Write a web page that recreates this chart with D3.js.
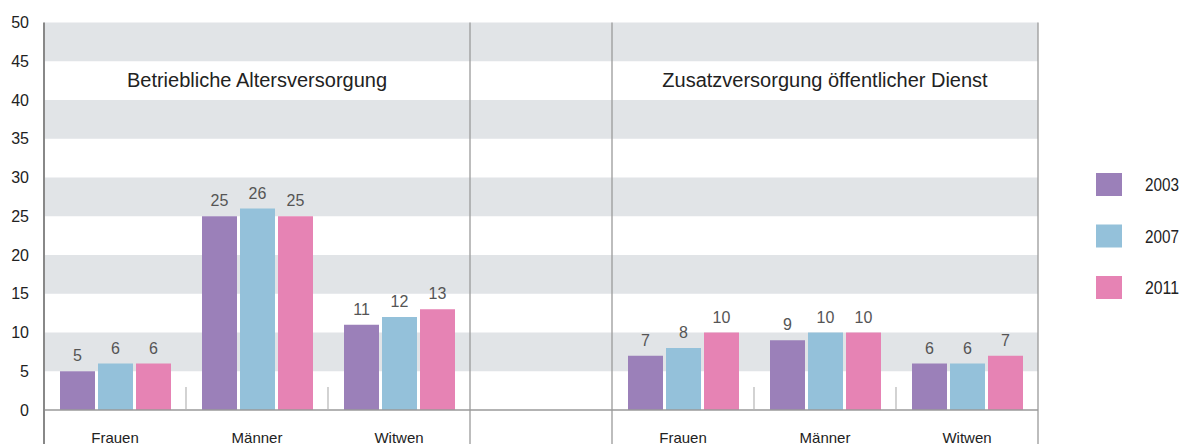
<!DOCTYPE html>
<html><head><meta charset="utf-8">
<script src="https://cdn.jsdelivr.net/npm/d3@7"></script>
<style>
body{margin:0;background:#fff;}
svg{display:block;font-family:"Liberation Sans",Arial,sans-serif;}
</style></head>
<body>
<svg id="chart" width="1183" height="444"></svg>
<script>
const years = ["2003","2007","2011"];
const categories = ["Frauen","Männer","Witwen"];
const panels = ["Betriebliche Altersversorgung","Zusatzversorgung öffentlicher Dienst"];
const valuesBetrieblich = [[5,6,6],[25,26,25],[11,12,13]];
const valuesOeffentlich = [[7,8,10],[9,10,10],[6,6,7]];
const yTicks = [0,5,10,15,20,25,30,35,40,45,50];
const colors = ["#9b80b9","#94c1da","#e683b4"];

const svg = d3.select("#chart");
const x0 = 44, x1 = 1038, yTop = 22.5, yBase = 410;

const slots = ["L0","L1","L2","gap","R0","R1","R2"];
const x = d3.scaleBand().domain(slots).range([x0, x1]);
const y = d3.scaleLinear().domain([0,50]).range([yBase, yTop]);
const xi = d3.scaleBand().domain(years).range([16,127]).paddingInner(3/38);

// bands
const bandPairs = [[5,10],[15,20],[25,30],[35,40],[45,50]];
svg.append("g").selectAll("rect").data(bandPairs).join("rect")
  .attr("x", x0).attr("width", x1 - x0)
  .attr("y", d => y(d[1])).attr("height", d => y(d[0]) - y(d[1]))
  .attr("fill", "#e1e4e7");

// y tick labels
svg.append("g").selectAll("text").data(yTicks).join("text")
  .attr("x", 29).attr("y", d => y(d)).attr("dy", "0.35em")
  .attr("text-anchor", "end").attr("font-size", 16).attr("fill", "#222")
  .text(d => d);

// data rows
const rows = [];
[valuesBetrieblich, valuesOeffentlich].forEach((vals, p) => {
  vals.forEach((arr, c) => {
    arr.forEach((v, k) => rows.push({slot: (p ? "R" : "L") + c, year: years[k], v, k}));
  });
});

svg.append("g").selectAll("rect").data(rows).join("rect")
  .attr("x", d => x(d.slot) + xi(d.year)).attr("width", xi.bandwidth())
  .attr("y", d => y(d.v)).attr("height", d => yBase - y(d.v))
  .attr("fill", d => colors[d.k]);

svg.append("g").selectAll("text").data(rows).join("text")
  .attr("x", d => x(d.slot) + xi(d.year) + xi.bandwidth()/2)
  .attr("y", d => y(d.v) - 10)
  .attr("text-anchor", "middle").attr("font-size", 16).attr("fill", "#555")
  .text(d => d.v);

// axis lines
const g = svg.append("g").attr("stroke", "#9a9a9a");
g.append("line").attr("x1", x0).attr("x2", x1).attr("y1", yBase).attr("y2", yBase).attr("stroke-width", 1.5);
g.append("line").attr("x1", x0).attr("x2", x0).attr("y1", yTop).attr("y2", 444).attr("stroke", "#888").attr("stroke-width", 2);
[x("gap"), x("R0"), x1].forEach(xx => {
  g.append("line").attr("x1", xx).attr("x2", xx).attr("y1", yTop).attr("y2", 444).attr("stroke-width", 1.3);
});
["L1","L2","R1","R2"].forEach(s => {
  g.append("line").attr("x1", x(s)).attr("x2", x(s)).attr("y1", yBase).attr("y2", yBase - 23)
    .attr("stroke", "#b5b5b5").attr("stroke-width", 1.2);
});

// category labels
const catRows = [];
["L","R"].forEach(p => categories.forEach((c, i) => catRows.push({slot: p + i, c})));
svg.append("g").selectAll("text").data(catRows).join("text")
  .attr("x", d => x(d.slot) + x.bandwidth()/2).attr("y", 443)
  .attr("text-anchor", "middle").attr("font-size", 15).attr("fill", "#222")
  .text(d => d.c);

// panel titles
svg.append("text").attr("x", (x("L0") + x("gap"))/2).attr("y", 87)
  .attr("text-anchor", "middle").attr("font-size", 20).attr("fill", "#222").text(panels[0]);
svg.append("text").attr("x", (x("R0") + x1)/2).attr("y", 87)
  .attr("text-anchor", "middle").attr("font-size", 20).attr("fill", "#222").text(panels[1]);

// legend
const lg = svg.append("g").selectAll("g").data(years).join("g")
  .attr("transform", (d, i) => `translate(1096, ${173 + i * 51.5})`);
lg.append("rect").attr("width", 26).attr("height", 23).attr("fill", (d, i) => colors[i]);
lg.append("text").attr("x", 49).attr("y", 11.5).attr("dy", "0.36em")
  .attr("font-size", 19).attr("fill", "#222")
  .attr("textLength", 34).attr("lengthAdjust", "spacingAndGlyphs")
  .text(d => d);
</script>
</body></html>
